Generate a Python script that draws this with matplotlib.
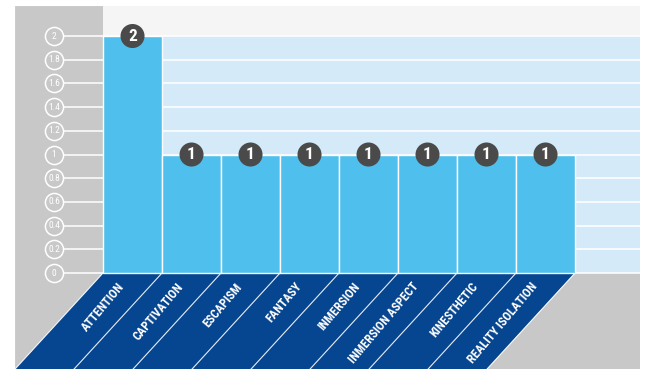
import matplotlib.pyplot as plt
from matplotlib.patches import Polygon

categories = ["ATTENTION", "CAPTIVATION", "ESCAPISM", "FANTASY",
              "INMERSION", "INMERSION ASPECT", "KINESTHETIC", "REALITY ISOLATION"]
counts = [2, 1, 1, 1, 1, 1, 1, 1]
y_ticks = [0, 0.2, 0.4, 0.6, 0.8, 1, 1.2, 1.4, 1.6, 1.8, 2]
y_tick_labels = ["0", "0.2", "0.4", "0.6", "0.8", "1", "1.2", "1.4", "1.6", "1.8", "2"]

FONT = ["Roboto Condensed", "Roboto", "DejaVu Sans"]

WALL_GRAY = "#c8c8c8"
BACK_BLUE = "#d4eaf8"
TOP_GRAY = "#f5f5f5"
BAR_BLUE = "#4fc0ed"
FLOOR_BLUE = "#06458f"
BADGE = "#4a4a4a"

# pseudo-3d geometry (in data units)
depth_dx, depth_dy = -1.49, -0.81
wall_top = 2.253
right_edge = 9.10
n = len(categories)

fig = plt.figure(figsize=(6.45, 3.69), dpi=100)
ax = fig.add_axes([0, 0, 1, 1])
ax.set_xlim(-1.746, 9.186)
ax.set_ylim(-0.810, 2.304)
ax.axis("off")

# left wall (with triangle down to the floor)
ax.add_patch(Polygon([(depth_dx, wall_top), (0, wall_top), (0, 0), (depth_dx, depth_dy)],
                     closed=True, fc=WALL_GRAY, ec="none", zorder=0))
# back wall and the strip above it
ax.add_patch(Polygon([(0, 0), (right_edge, 0), (right_edge, 2), (0, 2)],
                     closed=True, fc=BACK_BLUE, ec="none", zorder=0))
ax.add_patch(Polygon([(0, 2), (right_edge, 2), (right_edge, wall_top), (0, wall_top)],
                     closed=True, fc=TOP_GRAY, ec="none", zorder=0))
# floor: blue under the categories, gray to the right
ax.add_patch(Polygon([(0, 0), (n, 0), (n + depth_dx, depth_dy), (depth_dx, depth_dy)],
                     closed=True, fc=FLOOR_BLUE, ec="none", zorder=0))
ax.add_patch(Polygon([(n, 0), (right_edge, 0), (right_edge, depth_dy), (n + depth_dx, depth_dy)],
                     closed=True, fc=WALL_GRAY, ec="none", zorder=0))

# grid lines and round tick labels
tick_x = -0.83
for t, lab in zip(y_ticks, y_tick_labels):
    ax.plot([tick_x, right_edge], [t, t], color="white", lw=1.1, zorder=1)
    ax.scatter([tick_x], [t], s=170, fc=WALL_GRAY, ec="white", lw=1.1, zorder=2)
    ax.text(tick_x, t, lab, color="white", fontsize=6.8, family=FONT,
            ha="center", va="center", zorder=3)

# bars
xs = list(range(n))
ax.bar(xs, counts, width=1, align="edge", color=BAR_BLUE, ec="white", lw=1, zorder=4)

# value badges
for x, v in zip(xs, counts):
    ax.scatter([x + 0.5], [v], s=300, fc=BADGE, ec="none", zorder=5)
    ax.text(x + 0.5, v, str(v), color="white", fontsize=12.5, fontweight="bold",
            family=FONT, ha="center", va="center", zorder=6)

# floor dividers and category labels
for i in range(n + 1):
    ax.plot([i, i + depth_dx], [0, depth_dy], color="white", lw=0.8, alpha=0.9, zorder=1)
for i, name in enumerate(categories):
    d = 0.12
    ax.text(i + 0.5 + depth_dx * d, depth_dy * d, name, color="white", fontsize=8.8,
            fontweight="bold", family=FONT, rotation=50, rotation_mode="anchor",
            ha="right", va="center", zorder=3)

fig.savefig("out.png", dpi=100)
